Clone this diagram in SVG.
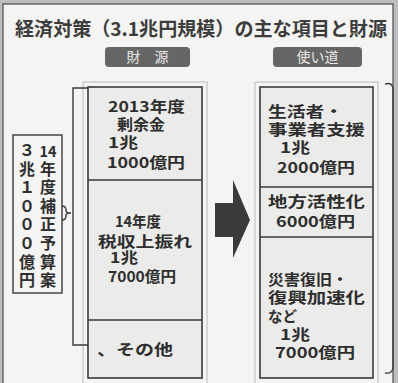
<svg xmlns="http://www.w3.org/2000/svg" width="398" height="383" viewBox="0 0 398 383">
<style>
text{font-family:"Noto Sans CJK JP","Noto Sans",sans-serif;font-weight:700;fill:#2e2e2e}
.t{font-size:15px}
.v{font-size:16px;writing-mode:vertical-rl;text-orientation:upright;letter-spacing:2.6px}
.box{fill:#ebebe9;stroke:#3a3a3a;stroke-width:1.6}
.frame{fill:none;stroke:#c4c4c4;stroke-width:1.2}
.pill{fill:#666666}
.ph{font-size:14px;fill:#e6e6e6;text-anchor:middle;font-weight:400}
.ln{fill:none;stroke:#3a3a3a;stroke-width:1.4}
</style>
<rect x="0" y="0" width="398" height="383" fill="#bdbdbd"/>
<rect x="3" y="4" width="390" height="382" fill="#f4f4f2" stroke="#4a4a4a" stroke-width="1.2"/>
<text x="15" y="36" style="font-size:19px;fill:#3c3c3c" textLength="372" lengthAdjust="spacingAndGlyphs">経済対策（3.1兆円規模）の主な項目と財源</text>

<g id="header-zaigen">
<rect class="pill" x="105" y="47" width="85" height="20" rx="4"/>
<text class="ph" x="147.5" y="62">財　源</text>
</g>
<g id="header-tsukaimichi">
<rect class="pill" x="273" y="47" width="89" height="20" rx="4"/>
<text class="ph" x="317.5" y="62">使い道</text>
</g>

<g id="hosei-yosan">
<rect x="13" y="135" width="49" height="158" fill="#f4f4f2" stroke="#3a3a3a" stroke-width="1.4"/>
<text class="v" x="27" y="142">３兆１０００億円</text>
<text x="48" y="157" style="font-size:15px;text-anchor:middle" textLength="17" lengthAdjust="spacingAndGlyphs">14</text>
<text class="v" x="48" y="160.6">年度補正予算案</text>
</g>

<g id="zaigen">
<rect class="frame" x="83" y="82" width="124" height="302"/>
<rect class="box" x="88" y="87" width="114" height="291"/>
<line class="ln" x1="88" y1="180" x2="202" y2="180"/>
<line class="ln" x1="88" y1="320" x2="202" y2="320"/>
<text class="t"><tspan x="108" y="112" textLength="77" lengthAdjust="spacingAndGlyphs">2013年度</tspan><tspan x="117" y="130" textLength="48" lengthAdjust="spacingAndGlyphs">剰余金</tspan><tspan x="108" y="148" textLength="30" lengthAdjust="spacingAndGlyphs">1兆</tspan><tspan x="107" y="168" textLength="78" lengthAdjust="spacingAndGlyphs">1000億円</tspan></text>
<text class="t"><tspan x="115" y="227" textLength="46" lengthAdjust="spacingAndGlyphs">14年度</tspan><tspan x="98" y="247" textLength="94" lengthAdjust="spacingAndGlyphs">税収上振れ</tspan><tspan x="110" y="263" textLength="28" lengthAdjust="spacingAndGlyphs">1兆</tspan><tspan x="108" y="282" textLength="68" lengthAdjust="spacingAndGlyphs">7000億円</tspan></text>
<text class="t" x="97" y="355" textLength="76" lengthAdjust="spacingAndGlyphs">、その他</text>
</g>

<g id="tsukaimichi">
<rect class="frame" x="255" y="82" width="123" height="302"/>
<rect class="box" x="260" y="87" width="113" height="291"/>
<line class="ln" x1="260" y1="187" x2="373" y2="187"/>
<line class="ln" x1="260" y1="237" x2="373" y2="237"/>
<text class="t"><tspan x="268" y="117" textLength="75" lengthAdjust="spacingAndGlyphs">生活者・</tspan><tspan x="268" y="135" textLength="97" lengthAdjust="spacingAndGlyphs">事業者支援</tspan><tspan x="280" y="153" textLength="30" lengthAdjust="spacingAndGlyphs">1兆</tspan><tspan x="277" y="173" textLength="78" lengthAdjust="spacingAndGlyphs">2000億円</tspan></text>
<text class="t"><tspan x="268" y="207" textLength="97" lengthAdjust="spacingAndGlyphs">地方活性化</tspan><tspan x="276" y="227" textLength="79" lengthAdjust="spacingAndGlyphs">6000億円</tspan></text>
<text class="t"><tspan x="268" y="285" textLength="80" lengthAdjust="spacingAndGlyphs">災害復旧・</tspan><tspan x="268" y="303" textLength="97" lengthAdjust="spacingAndGlyphs">復興加速化</tspan><tspan x="268" y="322" textLength="29" lengthAdjust="spacingAndGlyphs">など</tspan><tspan x="280" y="340" textLength="30" lengthAdjust="spacingAndGlyphs">1兆</tspan><tspan x="275" y="358" textLength="80" lengthAdjust="spacingAndGlyphs">7000億円</tspan></text>
</g>

<g id="connectors">
<path class="ln" d="M88,88 H73 V345 H88"/>
<path class="ln" d="M62,206 Q66,206 66,210 V211 Q66,213 71,213 Q66,213 66,215 V216 Q66,220 62,220"/>
<path d="M215,203 H233 V180 L250,220 L233,258 V237 H215 Z" fill="#3a3a3a"/>
<path class="ln" d="M385,84 Q392,82 393,88 V368 Q392,374 385,373"/>
</g>
</svg>
